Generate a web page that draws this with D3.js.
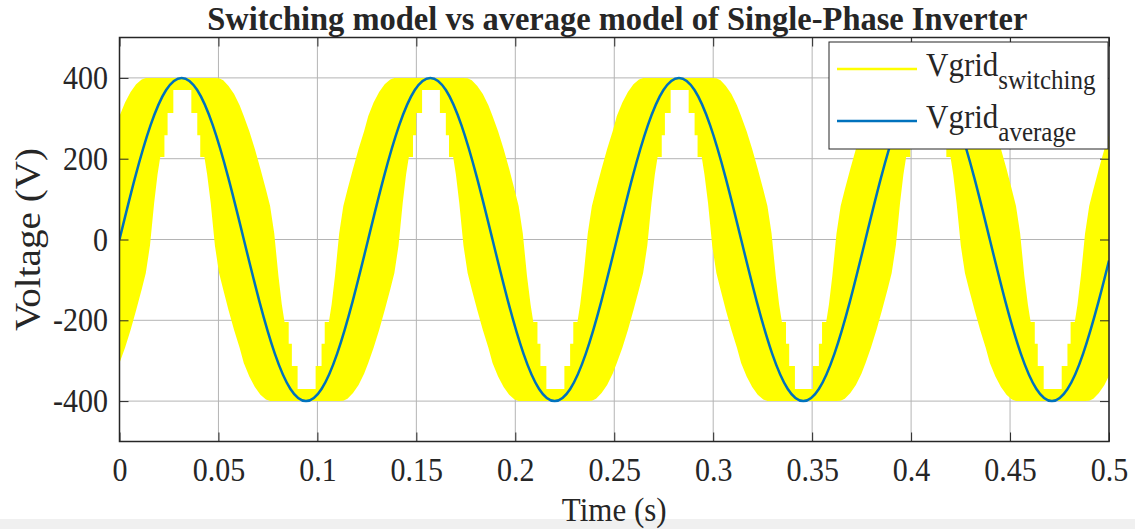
<!DOCTYPE html>
<html><head><meta charset="utf-8">
<script src="https://cdn.jsdelivr.net/npm/d3@7/dist/d3.min.js"></script>
<style>
body{margin:0;background:#fff;}
svg{display:block;}
text{font-family:"Liberation Serif","Times New Roman",serif;fill:#262626;}
</style>
</head><body>
<svg id="chart" width="1135" height="529"></svg>
<script>
// ---------- data ----------
const titleText = "Switching model vs average model of Single-Phase Inverter";
const xLabelText = "Time (s)";
const yLabelText = "Voltage (V)";
const xTicks = [0,0.05,0.1,0.15,0.2,0.25,0.3,0.35,0.4,0.45,0.5];
const xTickLabels = ["0","0.05","0.1","0.15","0.2","0.25","0.3","0.35","0.4","0.45","0.5"];
const yTicks = [-400,-200,0,200,400];
const yTickLabels = ["-400","-200","0","200","400"];
const seriesBase = "Vgrid";
const seriesSubs = ["switching","average"];
const seriesColors = ["#ffff00","#0072bd"];

// average model: sampled points of the blue trace
const avgTime = [0,.00785,.01571,.02356,.03141,.03927,.04712,.05497,.06282,.07068,.07853,.08638,.09424,.10209,.10994,.11780,
 .12565,.13350,.14136,.14921,.15706,.16492,.17277,.18062,.18847,.19633,.20418,.21203,.21989,.22774,.23559,.24345,
 .25130,.25915,.26701,.27486,.28271,.29056,.29842,.30627,.31412,.32198,.32983,.33768,.34554,.35339,.36124,.36910,
 .37695,.38480,.39265,.40051,.40836,.41621,.42407,.43192,.43977,.44763,.45548,.46333,.47119,.47904,.48689,.49474,.5];
const avgVoltage = [0,153,283,370,400,370,283,153,0,-153,-283,-370,-400,-370,-283,-153,
 0,153,283,370,400,370,283,153,0,-153,-283,-370,-400,-370,-283,-153,
 0,153,283,370,400,370,283,153,0,-153,-283,-370,-400,-370,-283,-153,
 0,153,283,370,400,370,283,153,0,-153,-283,-370,-400,-370,-283,-153,-52];

// switching model: upper / lower envelope of the switching band
const swTime = [
 0,.0028,.0056,.0084,.0112,.0133,.0154,.0175,.0192,.0206,.0227,.0227,.0243,.0243,.0272,.0272,.0363,.0363,.0393,.0393,.0408,.0408,.0429,.0443,.0461,.0482,.0503,.0524,.0551,.0579,.0607,
 .0628,.0656,.0684,.0712,.0740,.0761,.0782,.0803,.0820,.0834,.0855,.0855,.0871,.0871,.0900,.0900,.0991,.0991,.1021,.1021,.1037,.1037,.1058,.1072,.1089,.1110,.1131,.1152,.1180,.1208,.1236,
 .1257,.1284,.1312,.1340,.1368,.1389,.1410,.1431,.1448,.1462,.1483,.1483,.1499,.1499,.1529,.1529,.1619,.1619,.1649,.1649,.1665,.1665,.1686,.1700,.1717,.1738,.1759,.1780,.1808,.1836,.1864,
 .1885,.1913,.1941,.1969,.1996,.2017,.2038,.2059,.2077,.2091,.2112,.2112,.2127,.2127,.2157,.2157,.2248,.2248,.2277,.2277,.2293,.2293,.2314,.2328,.2345,.2366,.2387,.2408,.2436,.2464,.2492,
 .2513,.2541,.2569,.2597,.2625,.2646,.2667,.2688,.2705,.2719,.2740,.2740,.2756,.2756,.2785,.2785,.2876,.2876,.2906,.2906,.2921,.2921,.2942,.2956,.2974,.2995,.3016,.3037,.3064,.3092,.3120,
 .3141,.3169,.3197,.3225,.3253,.3274,.3295,.3316,.3333,.3347,.3368,.3368,.3384,.3384,.3413,.3413,.3504,.3504,.3534,.3534,.3550,.3550,.3571,.3585,.3602,.3623,.3644,.3665,.3693,.3721,.3749,
 .3770,.3797,.3825,.3853,.3881,.3902,.3923,.3944,.3961,.3975,.3996,.3996,.4012,.4012,.4042,.4042,.4132,.4132,.4162,.4162,.4178,.4178,.4199,.4213,.4230,.4251,.4272,.4293,.4321,.4349,.4377,
 .4398,.4426,.4454,.4482,.4509,.4530,.4551,.4572,.4590,.4604,.4625,.4625,.4640,.4640,.4670,.4670,.4761,.4761,.4790,.4790,.4806,.4806,.4827,.4841,.4858,.4879,.4900,.4921,.4949,.4977,.5000];
const swHigh = [
 306,339,365,384,396,400,400,400,400,400,400,400,400,400,400,400,400,400,400,400,400,400,400,400,400,400,399,394,380,360,332,
 306,268,224,175,124,83,15,-90,-160,-204,-204,-258,-258,-313,-313,-370,-370,-313,-313,-258,-258,-204,-204,-160,-90,15,83,124,175,224,268,
 306,339,365,384,396,400,400,400,400,400,400,400,400,400,400,400,400,400,400,400,400,400,400,400,400,400,399,394,380,360,332,
 306,268,224,175,124,83,15,-90,-160,-204,-204,-258,-258,-313,-313,-370,-370,-313,-313,-258,-258,-204,-204,-160,-90,15,83,124,175,224,268,
 306,339,365,384,396,400,400,400,400,400,400,400,400,400,400,400,400,400,400,400,400,400,400,400,400,400,399,394,380,360,332,
 306,268,224,175,124,83,15,-90,-160,-204,-204,-258,-258,-313,-313,-370,-370,-313,-313,-258,-258,-204,-204,-160,-90,15,83,124,175,224,268,
 306,339,365,384,396,400,400,400,400,400,400,400,400,400,400,400,400,400,400,400,400,400,400,400,400,400,399,394,380,360,332,
 306,268,224,175,124,83,15,-90,-160,-204,-204,-258,-258,-313,-313,-370,-370,-313,-313,-258,-258,-204,-204,-160,-90,15,83,124,175,224,260];
const swLow = [
 -306,-268,-224,-175,-124,-83,-15,90,160,204,204,258,258,313,313,370,370,313,313,258,258,204,204,160,90,-15,-83,-124,-175,-224,-268,
 -306,-339,-365,-384,-396,-400,-400,-400,-400,-400,-400,-400,-400,-400,-400,-400,-400,-400,-400,-400,-400,-400,-400,-400,-400,-400,-399,-394,-380,-360,-332,
 -306,-268,-224,-175,-124,-83,-15,90,160,204,204,258,258,313,313,370,370,313,313,258,258,204,204,160,90,-15,-83,-124,-175,-224,-268,
 -306,-339,-365,-384,-396,-400,-400,-400,-400,-400,-400,-400,-400,-400,-400,-400,-400,-400,-400,-400,-400,-400,-400,-400,-400,-400,-399,-394,-380,-360,-332,
 -306,-268,-224,-175,-124,-83,-15,90,160,204,204,258,258,313,313,370,370,313,313,258,258,204,204,160,90,-15,-83,-124,-175,-224,-268,
 -306,-339,-365,-384,-396,-400,-400,-400,-400,-400,-400,-400,-400,-400,-400,-400,-400,-400,-400,-400,-400,-400,-400,-400,-400,-400,-399,-394,-380,-360,-332,
 -306,-268,-224,-175,-124,-83,-15,90,160,204,204,258,258,313,313,370,370,313,313,258,258,204,204,160,90,-15,-83,-124,-175,-224,-268,
 -306,-339,-365,-384,-396,-400,-400,-400,-400,-400,-400,-400,-400,-400,-400,-400,-400,-400,-400,-400,-400,-400,-400,-400,-400,-400,-399,-394,-380,-360,-337];

// ---------- layout ----------
const W = 1135, H = 529;
const L = 119.5, R = 1109, T = 37.5, B = 441.5;
const axisColor = "#262626", gridColor = "#b4b4b4";
const SY = 1.12; // vertical stretch of the lettering

const svg = d3.select("#chart");
const x = d3.scaleLinear().domain([0, 0.5]).range([L, R]);
const y = d3.scaleLinear().domain([-500, 500]).range([B, T]);

svg.append("rect").attr("x",0).attr("y",0).attr("width",W).attr("height",H).attr("fill","#fff");
svg.append("rect").attr("x",0).attr("y",519).attr("width",W).attr("height",H-519).attr("fill","#f0f0f0");

svg.append("defs").append("clipPath").attr("id","plotclip")
  .append("rect").attr("x",L).attr("y",T).attr("width",R-L).attr("height",B-T);

// grid
const grid = svg.append("g");
grid.selectAll("line.gx").data(xTicks).join("line")
  .attr("x1",d=>x(d)).attr("x2",d=>x(d)).attr("y1",T).attr("y2",B)
  .attr("stroke",gridColor).attr("stroke-width",1);
grid.selectAll("line.gy").data(yTicks).join("line")
  .attr("x1",L).attr("x2",R).attr("y1",d=>y(d)).attr("y2",d=>y(d))
  .attr("stroke",gridColor).attr("stroke-width",1);

// data
const plot = svg.append("g").attr("clip-path","url(#plotclip)");
const idx = d3.range(swTime.length);
const band = d3.area()
  .x(i => x(swTime[i]))
  .y0(i => y(swLow[i]))
  .y1(i => y(swHigh[i]))
  .curve(d3.curveLinear);
plot.append("path").datum(idx).attr("d", band).attr("fill", seriesColors[0]);

const aidx = d3.range(avgTime.length);
const avgLine = d3.line()
  .x(i => x(avgTime[i]))
  .y(i => y(avgVoltage[i]))
  .curve(d3.curveNatural);
plot.append("path").datum(aidx).attr("d", avgLine)
  .attr("fill","none").attr("stroke", seriesColors[1]).attr("stroke-width",2.5);

// axes (ticks inside)
function styleAxis(g){
  g.select(".domain").remove();
  g.selectAll(".tick line").attr("stroke",axisColor).attr("stroke-width",1);
  g.selectAll(".tick text").attr("fill",axisColor).style("font-family",'"Liberation Serif","Times New Roman",serif').style("font-size","30px");
}
svg.append("g").attr("transform",`translate(0,${B})`)
  .call(d3.axisBottom(x).tickValues(xTicks).tickFormat((d,i)=>xTickLabels[i]).tickSize(-9).tickPadding(18))
  .call(styleAxis)
  .call(g=>g.selectAll(".tick text").attr("y",39.5/SY).attr("dy",0).attr("transform",`scale(1,${SY})`));
svg.append("g").attr("transform",`translate(0,${T})`)
  .call(d3.axisTop(x).tickValues(xTicks).tickFormat("").tickSize(-9))
  .call(styleAxis);
svg.append("g").attr("transform",`translate(${L},0)`)
  .call(d3.axisLeft(y).tickValues(yTicks).tickFormat((d,i)=>yTickLabels[i]).tickSize(-9).tickPadding(11.5))
  .call(styleAxis)
  .call(g=>g.selectAll(".tick text").attr("dy",10.5/SY).attr("transform",`scale(1,${SY})`));
svg.append("g").attr("transform",`translate(${R},0)`)
  .call(d3.axisRight(y).tickValues(yTicks).tickFormat("").tickSize(-9))
  .call(styleAxis);

svg.append("rect").attr("x",L).attr("y",T).attr("width",R-L).attr("height",B-T)
  .attr("fill","none").attr("stroke",axisColor).attr("stroke-width",1.5);

// titles
svg.append("text").attr("transform",`translate(${(L+R)/2+3},29.5) scale(1,1.04)`).attr("text-anchor","middle")
  .style("font-size","32.5px").style("font-weight","bold").attr("fill","#000").text(titleText);
svg.append("text").attr("transform",`translate(${(L+R)/2},521) scale(1,${SY})`).attr("text-anchor","middle")
  .style("font-size","31px").text(xLabelText);
svg.append("text").attr("transform",`translate(40,${(T+B)/2}) scale(1,${SY}) rotate(-90)`).attr("text-anchor","middle")
  .style("font-size","35px").text(yLabelText);

// legend
const lg = svg.append("g");
lg.append("rect").attr("x",829).attr("y",42).attr("width",279).attr("height",107)
  .attr("fill","#fff").attr("stroke",axisColor).attr("stroke-width",1);
const rowY = [69,121];
seriesSubs.forEach((s,i)=>{
  lg.append("line").attr("x1",837).attr("x2",917).attr("y1",rowY[i]).attr("y2",rowY[i])
    .attr("stroke",seriesColors[i]).attr("stroke-width",2.5);
  const t = lg.append("text").attr("transform",`translate(926,${rowY[i]+7}) scale(1,${SY})`)
    .style("font-size","31px").attr("fill","#000");
  t.append("tspan").attr("x",0).attr("y",0).text(seriesBase);
  t.append("tspan").attr("dy",12).style("font-size","25px").text(s);
});
</script>
</body></html>
